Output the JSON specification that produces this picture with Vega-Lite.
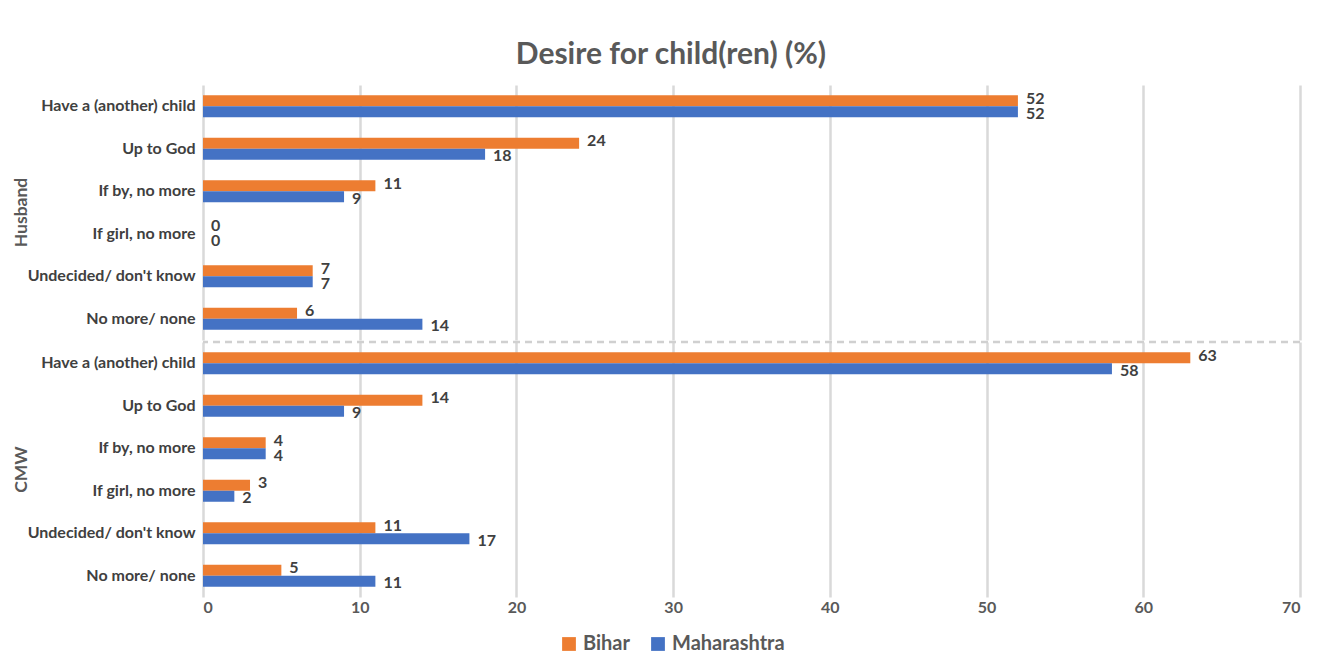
{
  "$schema": "https://vega.github.io/schema/vega-lite/v6.json",
  "background": "white",
  "padding": {"left": 12, "top": 40, "right": 10, "bottom": 10},
  "title": {"text": "Desire for child(ren) (%)", "fontSize": 30, "fontWeight": "bold", "color": "#595959", "font": "Lato", "anchor": "middle", "frame": "bounds", "offset": 15, "dx": 14},
  "data": {"values": [
    {"group": "Husband", "category": "Have a (another) child", "series": "Bihar", "value": 52},
    {"group": "Husband", "category": "Have a (another) child", "series": "Maharashtra", "value": 52},
    {"group": "Husband", "category": "Up to God", "series": "Bihar", "value": 24},
    {"group": "Husband", "category": "Up to God", "series": "Maharashtra", "value": 18},
    {"group": "Husband", "category": "If by, no more", "series": "Bihar", "value": 11},
    {"group": "Husband", "category": "If by, no more", "series": "Maharashtra", "value": 9},
    {"group": "Husband", "category": "If girl, no more", "series": "Bihar", "value": 0},
    {"group": "Husband", "category": "If girl, no more", "series": "Maharashtra", "value": 0},
    {"group": "Husband", "category": "Undecided/ don't know", "series": "Bihar", "value": 7},
    {"group": "Husband", "category": "Undecided/ don't know", "series": "Maharashtra", "value": 7},
    {"group": "Husband", "category": "No more/ none", "series": "Bihar", "value": 6},
    {"group": "Husband", "category": "No more/ none", "series": "Maharashtra", "value": 14},
    {"group": "CMW", "category": "Have a (another) child", "series": "Bihar", "value": 63},
    {"group": "CMW", "category": "Have a (another) child", "series": "Maharashtra", "value": 58},
    {"group": "CMW", "category": "Up to God", "series": "Bihar", "value": 14},
    {"group": "CMW", "category": "Up to God", "series": "Maharashtra", "value": 9},
    {"group": "CMW", "category": "If by, no more", "series": "Bihar", "value": 4},
    {"group": "CMW", "category": "If by, no more", "series": "Maharashtra", "value": 4},
    {"group": "CMW", "category": "If girl, no more", "series": "Bihar", "value": 3},
    {"group": "CMW", "category": "If girl, no more", "series": "Maharashtra", "value": 2},
    {"group": "CMW", "category": "Undecided/ don't know", "series": "Bihar", "value": 11},
    {"group": "CMW", "category": "Undecided/ don't know", "series": "Maharashtra", "value": 17},
    {"group": "CMW", "category": "No more/ none", "series": "Bihar", "value": 5},
    {"group": "CMW", "category": "No more/ none", "series": "Maharashtra", "value": 11}
  ]},
  "facet": {
    "row": {
      "field": "group", "type": "nominal", "sort": ["Husband", "CMW"], "title": null,
      "header": {"labelAngle": -90, "labelOrient": "left", "labelAnchor": "middle", "labelPadding": -12, "labelFontSize": 17.5, "labelFontWeight": "bold", "labelColor": "#595959", "labelFont": "Lato"}
    }
  },
  "spacing": 0,
  "spec": {
    "width": 1097,
    "height": 255,
    "resolve": {"scale": {"yOffset": "independent"}},
    "layer": [
      {
        "mark": {"type": "bar"},
        "encoding": {
          "y": {"field": "category", "type": "nominal", "sort": ["Have a (another) child", "Up to God", "If by, no more", "If girl, no more", "Undecided/ don't know", "No more/ none"], "title": null,
                "scale": {"paddingInner": 0, "paddingOuter": 0},
                "axis": {"domain": false, "ticks": false, "labelPadding": 6, "labelFontSize": 16, "labelFontWeight": "bold", "labelColor": "#404040", "labelFont": "Lato"}},
          "yOffset": {"field": "series", "type": "nominal", "sort": ["Bihar", "Maharashtra"], "scale": {"paddingInner": 0, "paddingOuter": 0.93}},
          "x": {"field": "value", "type": "quantitative", "title": null,
                "scale": {"domain": [0, 70], "nice": false},
                "axis": {"values": [0, 10, 20, 30, 40, 50, 60, 70], "domain": false, "ticks": false, "labelPadding": 2, "labelFontSize": 16, "labelFontWeight": "bold", "labelColor": "#595959", "labelFont": "Lato", "gridColor": "#d9d9d9", "gridWidth": 2.5}},
          "color": {"field": "series", "type": "nominal", "sort": ["Bihar", "Maharashtra"],
                    "scale": {"domain": ["Bihar", "Maharashtra"], "range": ["#ED7D31", "#4472C4"]},
                    "legend": {"orient": "none", "legendX": 356, "legendY": 549, "direction": "horizontal", "title": null, "symbolType": "square", "symbolSize": 190, "symbolStrokeWidth": 0, "labelFontSize": 20, "labelFontWeight": "bold", "labelColor": "#595959", "labelFont": "Lato", "columnPadding": 18}}
        }
      },
      {
        "mark": {"type": "text", "align": "left", "baseline": "middle", "dx": 8, "fontSize": 16, "fontWeight": "bold", "color": "#404040", "font": "Lato"},
        "encoding": {
          "y": {"field": "category", "type": "nominal", "sort": ["Have a (another) child", "Up to God", "If by, no more", "If girl, no more", "Undecided/ don't know", "No more/ none"]},
          "yOffset": {"field": "series", "type": "nominal", "sort": ["Bihar", "Maharashtra"], "scale": {"type": "point", "padding": 0.92}},
          "x": {"field": "value", "type": "quantitative"},
          "text": {"field": "value", "type": "quantitative"}
        }
      },
      {
        "transform": [{"filter": "datum.group == 'CMW' && datum.category == 'Have a (another) child' && datum.series == 'Bihar'"}],
        "mark": {"type": "rule", "strokeDash": [7, 5], "color": "#d0d0d0", "strokeWidth": 2.5},
        "encoding": {
          "y": {"field": "category", "type": "nominal", "bandPosition": 0, "sort": ["Have a (another) child", "Up to God", "If by, no more", "If girl, no more", "Undecided/ don't know", "No more/ none"]}
        }
      }
    ]
  },
  "config": {
    "view": {"stroke": null},
    "font": "Lato"
  }
}
